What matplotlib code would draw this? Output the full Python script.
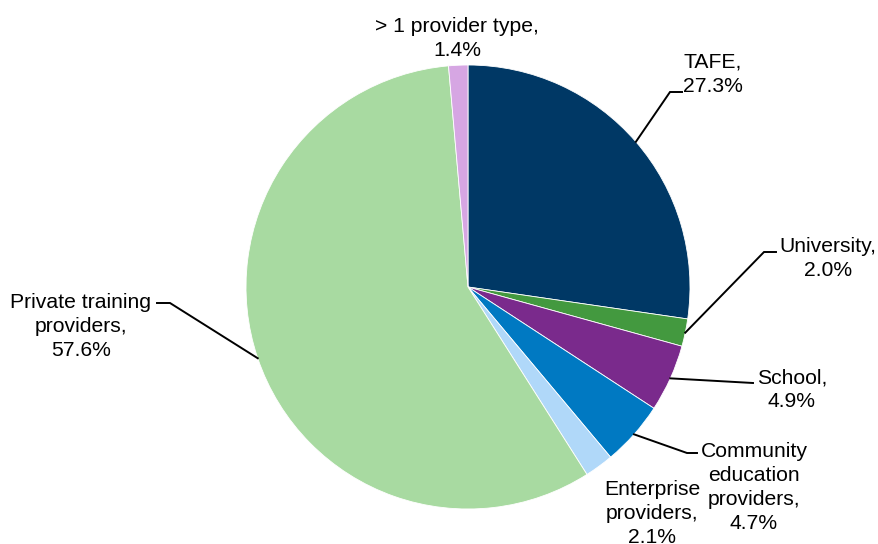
import numpy as np
import matplotlib
matplotlib.use("Agg")
import matplotlib.pyplot as plt

plt.rcParams['font.family'] = ['Liberation Sans', 'DejaVu Sans']

# Share of VET students by provider type
categories = ["TAFE", "University", "School", "Community\neducation\nproviders",
              "Enterprise\nproviders", "Private training\nproviders", "> 1 provider type"]
shares = [27.3, 2.0, 4.9, 4.7, 2.1, 57.6, 1.4]
colors = ["#003865", "#43993f", "#7a2a8c", "#0079c2", "#b0d8f9", "#a8daa1", "#d6a6e3"]

W, H = 879, 544
fig = plt.figure(figsize=(W / 100, H / 100), dpi=100)
ax = fig.add_axes([0, 0, 1, 1])

cx, cy, R = 468, H - 287, 222
wedges, _ = ax.pie(shares, colors=colors, startangle=90, counterclock=False,
                   center=(cx, cy), radius=R, frame=False,
                   wedgeprops=dict(edgecolor='white', linewidth=0.6))
ax.set_xlim(0, W)
ax.set_ylim(0, H)
ax.set_aspect('equal')
ax.axis('off')


def Y(y):
    return H - y


LINE_STEP = 24  # pixels between label baselines

# label placement: text centre x, baseline of first line, leader elbow, tick end
layout = {
    0: dict(tx=713, ty=68, elbow=(670, 92), end=(682, 92)),
    1: dict(tx=828, ty=252, elbow=(764, 252), end=(776, 252)),
    2: dict(tx=792, ty=383, elbow=(753, 383), end=(753, 383)),
    3: dict(tx=754, ty=457, elbow=(687, 453), end=(697, 453)),
    4: dict(tx=652, ty=495, elbow=None, end=None),
    5: dict(tx=81, ty=308, elbow=(170, 303), end=(157, 303)),
    6: dict(tx=457, ty=32, elbow=None, end=None),
}

for i, w in enumerate(wedges):
    info = layout[i]
    lines = f"{categories[i]},\n{shares[i]:.1f}%".split("\n")
    for k, line in enumerate(lines):
        ax.text(info['tx'], Y(info['ty'] + k * LINE_STEP), line,
                ha='center', va='baseline', fontsize=15.2, color='#000000')
    if info['elbow'] is not None:
        mid = np.deg2rad((w.theta1 + w.theta2) / 2)
        sx, sy = cx + R * np.cos(mid), cy + R * np.sin(mid)
        ex, ey = info['elbow']
        fx, fy = info['end']
        ax.plot([sx, ex, fx], [sy, Y(ey), Y(fy)], color='black', lw=1.4,
                solid_joinstyle='miter')

fig.savefig("out.png", dpi=100)
